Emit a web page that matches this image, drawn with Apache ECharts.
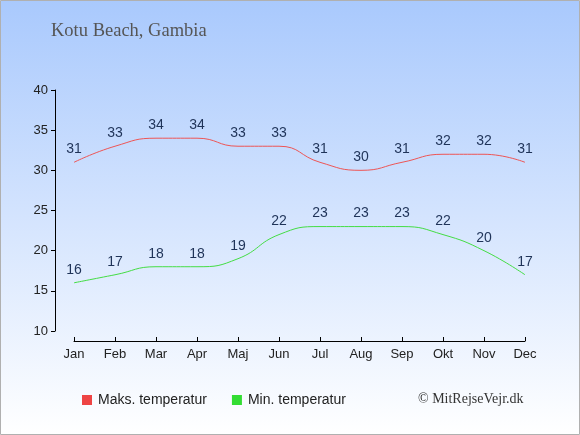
<!DOCTYPE html>
<html><head><meta charset="utf-8">
<script src="https://cdn.jsdelivr.net/npm/echarts@6/dist/echarts.min.js"></script>
<style>html,body{margin:0;padding:0;}#c{width:580px;height:435px;}</style>
</head><body><div id="c"></div>
<script>
var months = ['Jan','Feb','Mar','Apr','Maj','Jun','Jul','Aug','Sep','Okt','Nov','Dec'];
var maxTemp = [31,33,34,34,33,33,31,30,31,32,32,31];
var minTemp = [16,17,18,18,19,22,23,23,23,22,20,17];
var yTicks = [10,15,20,25,30,35,40];

var chart = echarts.init(document.getElementById('c'), null, {renderer:'canvas'});
var labelStyle = {show:true, position:'top', distance:6, color:'#1f3358', fontSize:14, fontFamily:'Liberation Sans, Arial, sans-serif'};
chart.setOption({
  animation:false,
  graphic:[
    {type:'rect', z:-10, silent:true, shape:{x:0.5,y:0.5,width:579,height:434},
     style:{fill:new echarts.graphic.LinearGradient(0,0,0,1,[{offset:0,color:'#a9c9fd'},{offset:1,color:'#ffffff'}]), stroke:'#b0b0b0', lineWidth:1}},
    {type:'text', left:51, top:22, style:{text:'Kotu Beach, Gambia', fill:'#555555', font:'18.5px "Liberation Serif", "DejaVu Serif", serif'}},
    {type:'text', left:418, top:392, style:{text:'© MitRejseVejr.dk', fill:'#333333', font:'14px "Liberation Serif", "DejaVu Serif", serif'}}
  ],
  legend:{
    left:77, top:388, itemWidth:10, itemHeight:10, itemGap:25, icon:'rect',
    textStyle:{color:'#222', fontSize:14, fontFamily:'Liberation Sans, Arial, sans-serif', padding:[0,0,0,1]},
    data:[{name:'Maks. temperatur', itemStyle:{color:'#ee4444'}},{name:'Min. temperatur', itemStyle:{color:'#33dd33'}}]
  },
  grid:{left:74, right:55, top:90, bottom:104, containLabel:false},
  xAxis:{
    type:'category', data:months, boundaryGap:false, offset:10,
    axisLine:{lineStyle:{color:'#000', width:1}},
    axisTick:{inside:true, length:4, lineStyle:{color:'#000'}},
    axisLabel:{color:'#222', fontSize:13, fontFamily:'Liberation Sans, Arial, sans-serif', margin:7},
    splitLine:{show:false}
  },
  yAxis:{
    type:'value', min:yTicks[0], max:yTicks[yTicks.length-1], interval:5, offset:19,
    axisLine:{show:true, lineStyle:{color:'#000', width:1}},
    axisTick:{show:true, length:4, lineStyle:{color:'#000'}},
    axisLabel:{color:'#222', fontSize:13, fontFamily:'Liberation Sans, Arial, sans-serif', margin:7},
    splitLine:{show:false}
  },
  series:[
    {name:'Maks. temperatur', type:'line', data:maxTemp, smooth:0.5, symbol:'circle', symbolSize:0, showSymbol:true,
     lineStyle:{color:'#ee5555', width:1}, itemStyle:{color:'#ee4444'}, label:labelStyle},
    {name:'Min. temperatur', type:'line', data:minTemp, smooth:0.5, symbol:'circle', symbolSize:0, showSymbol:true,
     lineStyle:{color:'#44dd44', width:1}, itemStyle:{color:'#33dd33'}, label:labelStyle}
  ]
});
</script></body></html>
